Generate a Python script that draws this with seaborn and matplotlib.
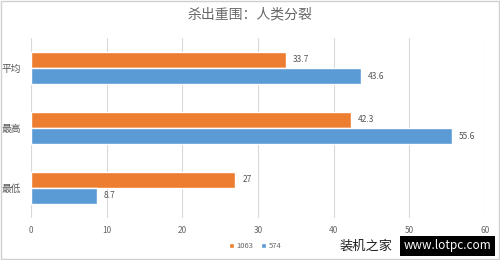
import matplotlib
matplotlib.use("Agg")
import matplotlib.pyplot as plt
import seaborn as sns
import pandas as pd
from matplotlib.patches import Patch

categories = ["平均", "最高", "最低"]
series_names = ["1063", "574"]
values_1063 = [33.7, 42.3, 27]
values_574 = [43.6, 55.6, 8.7]
label_1063 = ["33.7", "42.3", "27"]
label_574 = ["43.6", "55.6", "8.7"]
x_ticks = [0, 10, 20, 30, 40, 50, 60]

sns.set_theme(style="white")
plt.rcParams['font.family'] = ['Noto Sans CJK SC', 'DejaVu Sans']

df = pd.DataFrame({
    "cat": categories * 2,
    "series": [series_names[0]] * 3 + [series_names[1]] * 3,
    "val": values_1063 + values_574,
})

fig = plt.figure(figsize=(5, 2.6), dpi=100)
ax = fig.add_axes([0.062, 0.162, 0.908, 0.692])
palette = {"1063": "#ED7D31", "574": "#5B9BD5"}
sns.barplot(data=df, y="cat", x="val", hue="series", order=categories,
            hue_order=series_names, palette=palette, orient="h",
            width=0.54, ax=ax, legend=False, saturation=1)

ax.set_xlim(0, 60)
ax.set_ylim(2.5, -0.5)
ax.set_xticks(x_ticks)
ax.set_xticklabels([str(t) for t in x_ticks], fontsize=6, color="#666666")
ax.tick_params(axis="x", length=0, pad=6)
ax.tick_params(axis="y", length=0, pad=7)
ax.set_yticks(range(len(categories)))
ax.set_yticklabels(categories, fontsize=7, color="#555555")
ax.set_xlabel("")
ax.set_ylabel("")
ax.grid(axis="x", color="#D9D9D9", linewidth=0.8)
ax.set_axisbelow(True)
for s in ax.spines.values():
    s.set_visible(False)

labels = [label_1063, label_574]
for cont, labs in zip(ax.containers, labels):
    ax.bar_label(cont, labels=labs, padding=5, fontsize=6, color="#555555")

fig.text(0.5, 0.945, "杀出重围：人类分裂", ha="center", va="center",
         fontsize=10, color="#666666")

handles = [Patch(facecolor=palette[s], label=s) for s in series_names]
fig.legend(handles=handles, loc="center", bbox_to_anchor=(0.51, 0.054),
           ncol=2, frameon=False, fontsize=5.5, handlelength=0.7,
           handleheight=0.7, handletextpad=0.3, columnspacing=1.0,
           labelcolor="#666666")

# watermark
fig.text(0.68, 0.054, "装机之家", ha="left", va="center", fontsize=9.5,
         color="#222222")
fig.text(0.895, 0.054, "www.lotpc.com", ha="center", va="center", fontsize=8.5,
         color="white", bbox=dict(facecolor="black", edgecolor="none", pad=2.5))

fig.patches.append(plt.Rectangle((0.002, 0.004), 0.996, 0.992, transform=fig.transFigure,
                                 fill=False, edgecolor="#D0D0D0", linewidth=1))
fig.savefig("out.png", dpi=100)
